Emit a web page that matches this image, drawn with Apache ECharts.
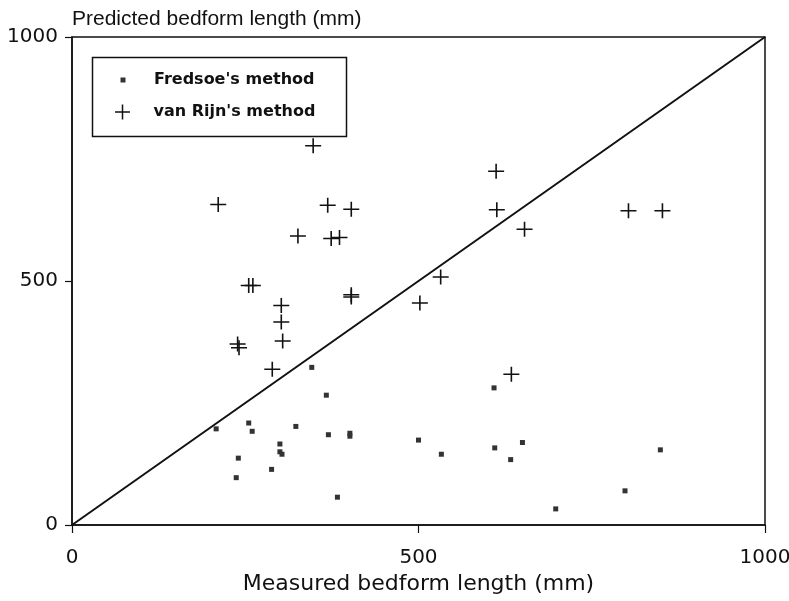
<!DOCTYPE html>
<html>
<head>
<meta charset="utf-8">
<script src="https://cdn.jsdelivr.net/npm/echarts@6/dist/echarts.min.js"></script>
<style>html,body{margin:0;padding:0;background:#fff}#c{width:789px;height:601px}</style>
</head>
<body>
<div id="c"></div>
<script>
// Fredsoe's method: measured (x) and predicted (y) bedform length, mm
const fredsoeMeasured  = [208, 255, 260, 323, 346, 367, 370, 401, 401, 500, 300, 300, 303, 240, 288, 237, 383, 609, 650, 610, 633, 849, 798, 698, 533];
const fredsoePredicted = [197, 209, 192, 202, 323, 266, 185, 188, 182, 174, 166, 150, 145, 137, 114,  97,  57, 281, 169, 158, 134, 154,  70,  33, 145];
// van Rijn's method
const vanRijnMeasured  = [211, 348, 369, 403, 326, 374, 386, 255, 261, 239, 241, 302, 302, 304, 289, 403, 403, 502, 532, 612, 613, 653, 634, 803, 852];
const vanRijnPredicted = [657, 777, 655, 647, 592, 587, 589, 491, 491, 371, 363, 450, 416, 377, 319, 472, 467, 455, 508, 725, 646, 606, 309, 644, 644];
// line of perfect agreement
const lineMeasured  = [0, 1000];
const linePredicted = [0, 1000];
const seriesNames = ["Fredsoe's method", "van Rijn's method"];

const pairs = (xs, ys) => xs.map((x, i) => [x, ys[i]]);
const crossPath = 'path://M7.2,0H8.8V7.2H16V8.8H8.8V16H7.2V8.8H0V7.2H7.2Z';
const ink = '#111';
const plain = v => String(v);

const chart = echarts.init(document.getElementById('c'), null, {renderer: 'canvas'});
chart.setOption({
  backgroundColor: '#fff',
  animation: false,
  title: {
    text: 'Predicted bedform length (mm)',
    left: 72, top: 9, padding: 0,
    textStyle: {fontFamily: 'Liberation Sans', fontSize: 21, fontWeight: 'normal', color: ink}
  },
  grid: {left: 72, right: 24, top: 37, bottom: 76, show: true, borderColor: ink, borderWidth: 1.5,
         backgroundColor: 'transparent', containLabel: false, outerBoundsMode: 'none'},
  xAxis: {
    type: 'value', min: 0, max: 1000, interval: 500,
    name: 'Measured bedform length (mm)', nameLocation: 'middle', nameGap: 42,
    nameTextStyle: {fontFamily: 'DejaVu Sans', fontSize: 22, color: ink},
    axisLine: {lineStyle: {color: ink, width: 1.5}},
    axisTick: {inside: false, length: 8, lineStyle: {color: ink, width: 1.2}},
    axisLabel: {margin: 23, fontFamily: 'DejaVu Sans', fontSize: 20, color: ink, formatter: plain},
    splitLine: {show: false}
  },
  yAxis: {
    type: 'value', min: 0, max: 1000, interval: 500,
    axisLine: {show: true, lineStyle: {color: ink, width: 1.5}},
    axisTick: {show: true, inside: false, length: 7, lineStyle: {color: ink, width: 1.2}},
    axisLabel: {margin: 14, fontFamily: 'DejaVu Sans', fontSize: 20, color: ink, formatter: plain},
    splitLine: {show: false}
  },
  legend: [
    {
      data: [seriesNames[0]], left: 120.5, top: 72, padding: 0,
      itemWidth: 5, itemHeight: 5, icon: 'rect', selectedMode: false,
      itemStyle: {color: '#333'},
      textStyle: {fontFamily: 'DejaVu Sans', fontWeight: 'bold', fontSize: 16, color: ink, padding: [0, 0, 0, 23.5]}
    },
    {
      data: [seriesNames[1]], left: 115, top: 104, padding: 0,
      itemWidth: 16, itemHeight: 15, icon: crossPath, selectedMode: false,
      itemStyle: {color: ink},
      textStyle: {fontFamily: 'DejaVu Sans', fontWeight: 'bold', fontSize: 16, color: ink, padding: [0, 0, 0, 18]}
    }
  ],
  graphic: [{
    type: 'rect', left: 90, top: 55, z: 10,
    shape: {width: 254, height: 79},
    style: {fill: 'none', stroke: ink, lineWidth: 1.5}
  }],
  series: [
    {
      type: 'line', data: pairs(lineMeasured, linePredicted), showSymbol: false, symbol: 'none',
      lineStyle: {color: ink, width: 2}, silent: true, z: 1
    },
    {
      name: seriesNames[0], type: 'scatter', data: pairs(fredsoeMeasured, fredsoePredicted),
      symbol: 'rect', symbolSize: 5, itemStyle: {color: '#333', opacity: 1}, z: 3
    },
    {
      name: seriesNames[1], type: 'scatter', data: pairs(vanRijnMeasured, vanRijnPredicted),
      symbol: crossPath, symbolSize: [16, 15], itemStyle: {color: ink, opacity: 1}, z: 3
    }
  ]
});
</script>
</body>
</html>
